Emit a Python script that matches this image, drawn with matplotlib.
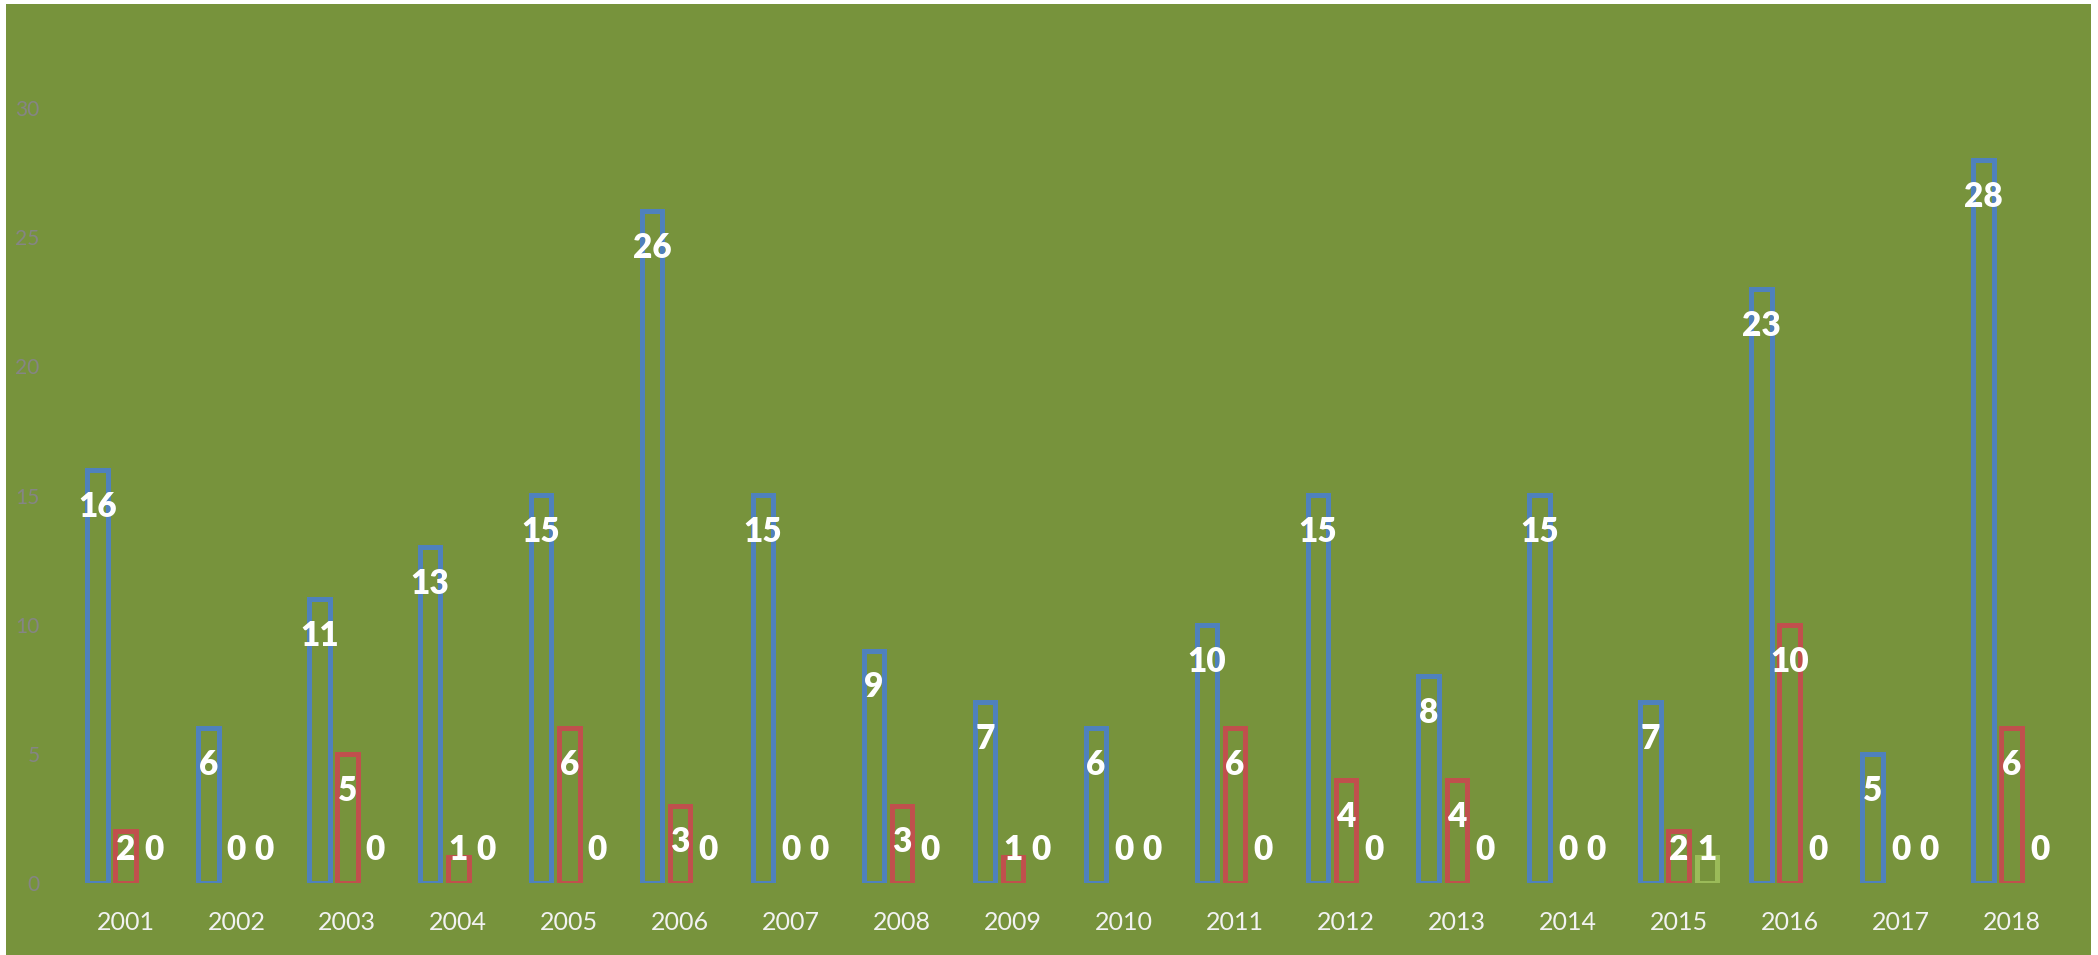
import matplotlib
matplotlib.use("Agg")
import matplotlib.pyplot as plt
from matplotlib.patches import Rectangle
import numpy as np

years = ["2001", "2002", "2003", "2004", "2005", "2006", "2007", "2008", "2009",
         "2010", "2011", "2012", "2013", "2014", "2015", "2016", "2017", "2018"]
series_blue = [16, 6, 11, 13, 15, 26, 15, 9, 7, 6, 10, 15, 8, 15, 7, 23, 5, 28]
series_red = [2, 0, 5, 1, 6, 3, 0, 3, 1, 0, 6, 4, 4, 0, 2, 10, 0, 6]
series_green = [0, 0, 0, 0, 0, 0, 0, 0, 0, 0, 0, 0, 0, 0, 1, 0, 0, 0]
y_ticks = [0, 5, 10, 15, 20, 25, 30]

plt.rcParams['font.family'] = ['Lato', 'DejaVu Sans']

W, H, DPI = 2098, 955, 100
fig = plt.figure(figsize=(W / DPI, H / DPI), dpi=DPI)
fig.patch.set_facecolor('white')
bg_color = '#77933C'
fig.add_artist(Rectangle((6 / W, 0), (2091 - 6) / W, (955 - 4) / H,
                         transform=fig.transFigure, facecolor=bg_color,
                         edgecolor='none', zorder=0))

ax = fig.add_axes([70 / W, (955 - 883) / H, (2067 - 70) / W, (883 - 108) / H])
ax.set_facecolor('none')

x = np.arange(len(years))
offset = 0.253
bw = 0.185
series = [(series_blue, '#4F81BD', -offset),
          (series_red, '#C0504D', 0.0),
          (series_green, '#9BBB59', offset)]

for vals, col, off in series:
    bars = ax.bar(x + off, vals, width=bw, facecolor='none', edgecolor=col,
                  linewidth=3.6, joinstyle='miter', zorder=2)
    for b, v in zip(bars, vals):
        if v == 0:
            b.set_visible(False)
        ly = max(v - 1.43, 1.28)
        ax.text(b.get_x() + b.get_width() / 2, ly, str(v), ha='center', va='center',
                color='white', fontsize=24, fontweight='heavy', zorder=3)

ax.set_xlim(-0.5, len(years) - 0.5)
ax.set_ylim(0, 30)
ax.set_xticks(x)
ax.set_xticklabels(years, color='#F2F2F2', fontsize=18)
ax.set_yticks(y_ticks)
ax.set_yticklabels([str(t) for t in y_ticks], color='#858585', fontsize=15)
ax.tick_params(axis='x', length=0, pad=20)
ax.tick_params(axis='y', length=0, pad=22)
for s in ax.spines.values():
    s.set_visible(False)

fig.savefig('out.png', dpi=DPI, facecolor=fig.get_facecolor())
